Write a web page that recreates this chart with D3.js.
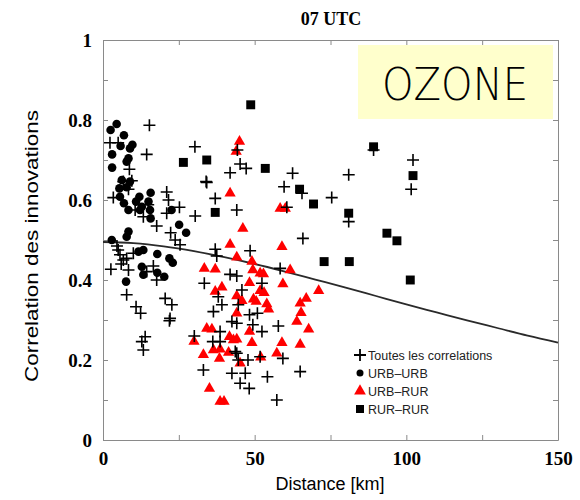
<!DOCTYPE html>
<html>
<head>
<meta charset="utf-8">
<script src="https://cdn.jsdelivr.net/npm/d3@7"></script>
<style>
  body { margin: 0; background: #fff; }
  svg { display: block; }
</style>
</head>
<body>
<div id="chart"></div>
<script>
// values: [distance km, correlation]
const toutes = [
  [15.3,0.787],[2.3,0.743],[5.0,0.743],[14.4,0.714],[8.7,0.677],[30.3,0.733],[34.0,0.646],[6.7,0.646],
  [9.5,0.648],[8.4,0.627],[3.4,0.606],[10.6,0.575],[13.3,0.558],[21.0,0.62],[21.6,0.60],[21.0,0.567],
  [25.2,0.582],[30.4,0.56],[17.7,0.535],[22.3,0.518],[23.8,0.50],[25.4,0.488],[5.0,0.475],[5.6,0.463],
  [6.7,0.45],[10.0,0.467],[7.8,0.454],[4.6,0.485],[6.0,0.44],[2.6,0.427],[8.4,0.425],[16.6,0.435],
  [14.4,0.421],[17.7,0.40],[7.8,0.363],[20.5,0.354],[22.7,0.338],[10.9,0.333],[12.4,0.317],[22.1,0.304],
  [14.9,0.588],[21.9,0.298],[13.9,0.258],[12.8,0.246],[13.3,0.225],[30.1,0.26],
  [41.9,0.668],[45.2,0.69],[47.2,0.679],[34.2,0.644],[37.0,0.604],[44.1,0.575],[62.5,0.667],[59.7,0.633],
  [65.6,0.617],[60.6,0.582],[65.9,0.504],[37.0,0.477],[37.5,0.46],[48.5,0.473],[58.4,0.429],[41.9,0.414],
  [44.1,0.41],[33.4,0.392],[45.8,0.375],[52.4,0.392],[38.0,0.358],[39.2,0.338],[36.4,0.321],[44.6,0.338],
  [48.3,0.313],[50.9,0.317],[42.5,0.296],[44.1,0.292],[49.4,0.288],[52.4,0.271],[57.8,0.285],[36.2,0.246],
  [38.6,0.246],[38.6,0.271],[43.6,0.221],[44.6,0.20],[47.8,0.20],[51.8,0.208],[59.3,0.204],[33.1,0.175],
  [42.5,0.167],[46.9,0.167],[54.2,0.158],[45.2,0.142],[48.2,0.129],[65.0,0.171],[57.3,0.10],[44.3,0.725],
  [75.4,0.606],[81.0,0.663],[81.0,0.546],[89.2,0.725],[102.2,0.70],[101.6,0.627],[44.1,0.217]
];

const urbUrb = [
  [2.5,0.775],[4.5,0.79],[6.9,0.762],[5.8,0.735],[8.9,0.729],[9.7,0.738],[3.0,0.714],[7.8,0.696],
  [8.4,0.704],[3.0,0.681],[6.2,0.65],[5.4,0.629],[7.8,0.632],[8.9,0.646],[5.6,0.608],[6.9,0.592],
  [12.0,0.608],[10.9,0.596],[12.8,0.583],[15.7,0.618],[15.0,0.596],[15.5,0.575],[15.7,0.554],[8.4,0.521],
  [7.8,0.508],[25.1,0.538],[27.4,0.518],[2.9,0.50],[13.3,0.475],[11.7,0.471],[17.9,0.465],[21.9,0.454],
  [23.0,0.443],[12.8,0.433],[13.3,0.413],[8.4,0.575],[12.2,0.575],[17.9,0.418],[20.2,0.408],[7.6,0.396],
  [22.6,0.575]
];

const urbRur = [
  [45.0,0.746],[43.9,0.721],[41.9,0.617],[58.4,0.579],[60.1,0.579],[46.1,0.529],[41.9,0.489],[59.0,0.483],
  [44.1,0.457],[49.1,0.446],[33.4,0.429],[37.0,0.427],[61.7,0.425],[49.4,0.425],[51.8,0.417],[52.9,0.415],
  [48.3,0.393],[59.3,0.39],[71.1,0.373],[37.0,0.371],[39.2,0.382],[51.8,0.373],[53.1,0.368],[44.1,0.36],
  [45.8,0.348],[49.6,0.352],[50.5,0.346],[54.0,0.34],[54.6,0.327],[44.1,0.317],[65.0,0.342],[67.0,0.354],
  [65.3,0.318],[63.9,0.296],[67.8,0.277],[34.2,0.279],[35.9,0.277],[48.3,0.271],[30.0,0.246],[41.7,0.258],
  [43.0,0.25],[44.1,0.252],[49.1,0.243],[36.4,0.225],[38.6,0.227],[41.4,0.219],[59.0,0.243],[65.0,0.239],
  [33.1,0.213],[38.4,0.204],[45.2,0.192],[52.0,0.207],[57.3,0.217],[35.1,0.129],[38.6,0.096],[39.9,0.096]
];

const rurRur = [
  [48.7,0.838],[53.5,0.679],[64.8,0.627],[69.4,0.59],[81.0,0.567],[89.2,0.733],[102.2,0.661],[93.6,0.517],
  [96.9,0.498],[72.9,0.446],[81.2,0.446],[101.3,0.40],[26.5,0.694],[34.2,0.70],[37.0,0.569]
];

// fitted curve, read every 10 km
const curveKm   = [0, 10, 20, 30, 40, 50, 60, 70, 80, 90, 100, 110, 120, 130, 140, 150];
const curveCorr = [0.495, 0.492, 0.484, 0.472, 0.457, 0.440, 0.421, 0.401, 0.381, 0.360, 0.339, 0.319, 0.299, 0.280, 0.261, 0.2435];

const xTickLabels = [0, 50, 100, 150];
const yTickLabels = [0, 0.2, 0.4, 0.6, 0.8, 1];
const legendLabels = ["Toutes les correlations", "URB\u2013URB", "URB\u2013RUR", "RUR\u2013RUR"];

const W = 580, H = 500;
const svg = d3.select("#chart").append("svg").attr("width", W).attr("height", H);

const x = d3.scaleLinear().domain([0, 150]).range([103, 558]);
const y = d3.scaleLinear().domain([0, 1]).range([440, 40]);

const frameColor = "#8a8a8a";

// axes on all four sides, ticks pointing inward
const axisB = d3.axisBottom(x).tickValues(d3.range(0, 151, 25)).tickSize(-5).tickSizeOuter(0).tickPadding(12)
  .tickFormat(d => xTickLabels.includes(d) ? d : "");
const axisT = d3.axisTop(x).tickValues(d3.range(0, 151, 25)).tickSize(-5).tickSizeOuter(0).tickFormat("");
const axisL = d3.axisLeft(y).tickValues(d3.range(0, 11).map(i => i / 10)).tickSize(-5).tickSizeOuter(0).tickPadding(11)
  .tickFormat(d => { const m = yTickLabels.find(v => Math.abs(v - d) < 1e-9); return m === undefined ? "" : String(m); });
const axisR = d3.axisRight(y).tickValues(d3.range(0, 11).map(i => i / 10)).tickSize(-5).tickSizeOuter(0).tickFormat("");

function styleAxis(g) {
  g.select(".domain").attr("stroke", frameColor);
  g.selectAll(".tick line").attr("stroke", frameColor);
  g.selectAll(".tick text")
    .attr("fill", "#000")
    .style("font-family", "'Liberation Serif', 'Times New Roman', serif")
    .style("font-weight", "bold")
    .style("font-size", "19px");
}

svg.append("g").attr("transform", "translate(0,440)").call(axisB).call(styleAxis);
svg.append("g").attr("transform", "translate(0,40)").call(axisT).call(styleAxis);
svg.append("g").attr("transform", "translate(103,0)").call(axisL).call(styleAxis);
svg.append("g").attr("transform", "translate(558,0)").call(axisR).call(styleAxis);

// OZONE box
svg.append("rect")
  .attr("x", 358).attr("y", 45).attr("width", 195).attr("height", 74)
  .attr("fill", "#ffffcc");
svg.append("text")
  .attr("x", 455).attr("y", 100)
  .attr("text-anchor", "middle")
  .attr("textLength", 146).attr("lengthAdjust", "spacingAndGlyphs")
  .style("font-family", "'DejaVu Sans', sans-serif")
  .style("font-weight", "200")
  .style("font-size", "44px")
  .text("OZONE");

// curve
const line = d3.line().x(d => x(d[0])).y(d => y(d[1])).curve(d3.curveMonotoneX);
svg.append("path")
  .datum(curveKm.map((k, i) => [k, curveCorr[i]]))
  .attr("d", line)
  .attr("fill", "none")
  .attr("stroke", "#2a2a2a")
  .attr("stroke-width", 1.8);

const plusPath = "M-6,0H6M0,-6V6";
const tri = d3.symbol().type(d3.symbolTriangle).size(55)();
const sq = d3.symbol().type(d3.symbolSquare).size(80)();

svg.append("g").selectAll("path")
  .data(urbRur).join("path")
  .attr("transform", d => `translate(${x(d[0])},${y(d[1])})`)
  .attr("d", tri).attr("fill", "#ff0000");

svg.append("g").selectAll("circle")
  .data(urbUrb).join("circle")
  .attr("cx", d => x(d[0])).attr("cy", d => y(d[1])).attr("r", 4.3)
  .attr("fill", "#000");

svg.append("g").selectAll("path")
  .data(rurRur).join("path")
  .attr("transform", d => `translate(${x(d[0])},${y(d[1])})`)
  .attr("d", sq).attr("fill", "#000");

svg.append("g").selectAll("path")
  .data(toutes).join("path")
  .attr("transform", d => `translate(${x(d[0])},${y(d[1])})`)
  .attr("d", plusPath).attr("stroke", "#000").attr("stroke-width", 1.6).attr("fill", "none");

// legend
const lg = svg.append("g").attr("transform", "translate(360,355)");
const rowH = 18;
lg.append("path").attr("d", plusPath).attr("stroke", "#000").attr("stroke-width", 1.8);
lg.append("circle").attr("cy", rowH).attr("r", 3.5).attr("fill", "#000");
lg.append("path").attr("transform", `translate(0,${rowH * 2})`).attr("d", d3.symbol().type(d3.symbolTriangle).size(60)()).attr("fill", "#ff0000");
lg.append("path").attr("transform", `translate(0,${rowH * 3})`).attr("d", d3.symbol().type(d3.symbolSquare).size(64)()).attr("fill", "#000");
lg.selectAll("text")
  .data(legendLabels).join("text")
  .attr("x", 8).attr("y", (d, i) => i * rowH + 5)
  .style("font-family", "'Liberation Sans', Arial, sans-serif")
  .style("font-size", "12.5px")
  .attr("fill", "#222")
  .text(d => d);

// title and axis labels
svg.append("text")
  .attr("x", 331).attr("y", 25)
  .attr("text-anchor", "middle")
  .style("font-family", "'Liberation Serif', 'Times New Roman', serif")
  .style("font-weight", "bold")
  .style("font-size", "18px")
  .text("07 UTC");

svg.append("text")
  .attr("x", 330).attr("y", 490)
  .attr("text-anchor", "middle")
  .style("font-family", "'Liberation Sans', Arial, sans-serif")
  .style("font-size", "18px")
  .text("Distance [km]");

svg.append("text")
  .attr("transform", "translate(38,246) rotate(-90)")
  .attr("text-anchor", "middle")
  .attr("textLength", 272).attr("lengthAdjust", "spacingAndGlyphs")
  .style("font-family", "'Liberation Sans', Arial, sans-serif")
  .style("font-size", "18px")
  .text("Correlation des innovations");
</script>
</body>
</html>
